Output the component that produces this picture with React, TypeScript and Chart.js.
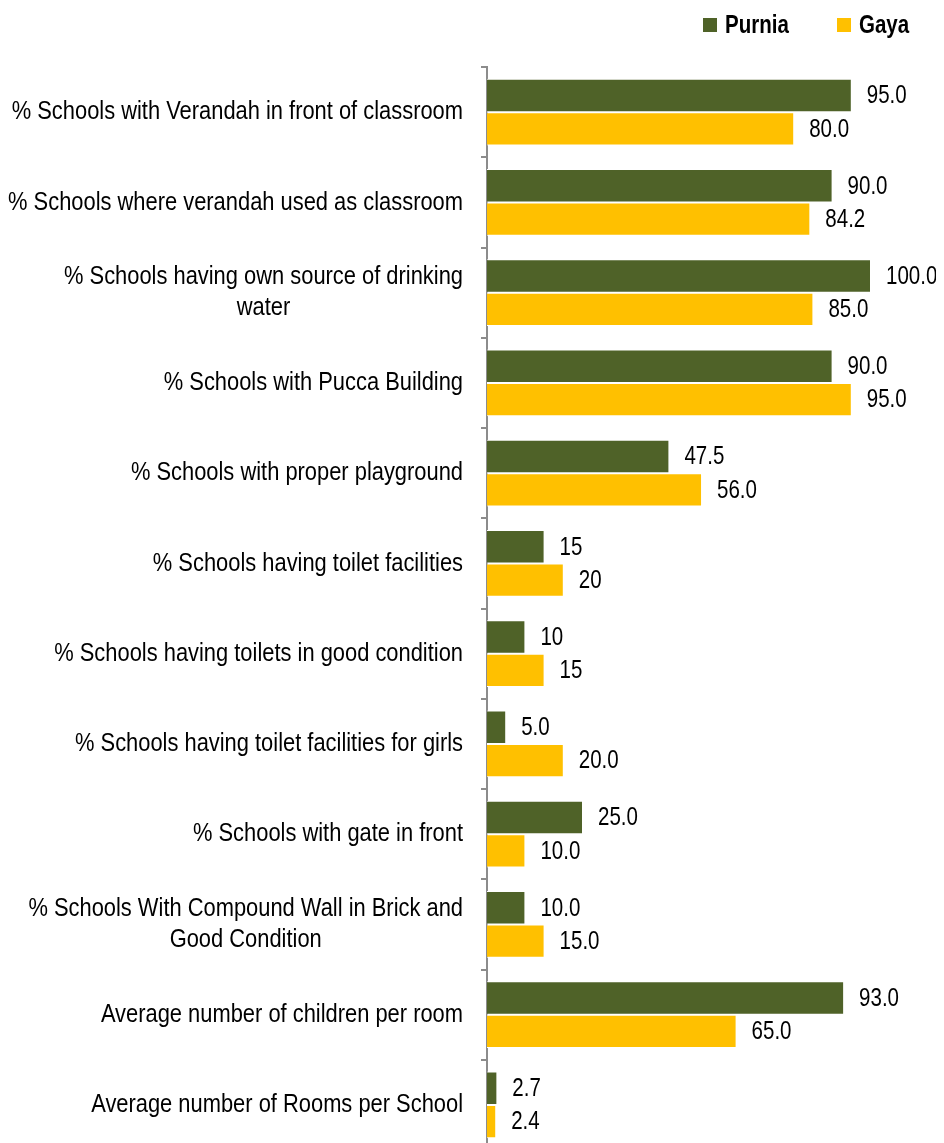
import React, { useEffect, useRef } from "react";
import { Chart, registerables } from "chart.js";

Chart.register(...registerables);

const categories: string[][] = [
  ["% Schools with Verandah in front of classroom"],
  ["% Schools where verandah used as classroom"],
  ["% Schools having own source of drinking", "water"],
  ["% Schools with Pucca Building"],
  ["% Schools with proper playground"],
  ["% Schools having toilet facilities"],
  ["% Schools having toilets in good condition"],
  ["% Schools having toilet facilities for girls"],
  ["% Schools with gate in front"],
  ["% Schools With Compound Wall in Brick and", "Good Condition"],
  ["Average number of children per room"],
  ["Average number of Rooms per School"],
];

const seriesNames = ["Purnia", "Gaya"];
const purniaValues = [95, 90, 100, 90, 47.5, 15, 10, 5, 25, 10, 93, 2.7];
const gayaValues = [80, 84.2, 85, 95, 56, 20, 15, 20, 10, 15, 65, 2.4];
const purniaLabels = ["95.0", "90.0", "100.0", "90.0", "47.5", "15", "10", "5.0", "25.0", "10.0", "93.0", "2.7"];
const gayaLabels = ["80.0", "84.2", "85.0", "95.0", "56.0", "20", "15", "20.0", "10.0", "15.0", "65.0", "2.4"];

const GREEN = "#4F6228";
const YELLOW = "#FFC000";

let narrowAvailable: boolean | null = null;
function checkNarrow(ctx: CanvasRenderingContext2D) {
  if (narrowAvailable !== null) return narrowAvailable;
  ctx.save();
  ctx.font = '26px "Liberation Sans Narrow", monospace';
  const a = ctx.measureText("Schools with Verandah").width;
  ctx.font = "26px monospace";
  const b = ctx.measureText("Schools with Verandah").width;
  ctx.restore();
  narrowAvailable = Math.abs(a - b) > 0.5;
  return narrowAvailable;
}

function setFont(ctx: CanvasRenderingContext2D, size: number, bold: boolean) {
  const w = bold ? "bold " : "";
  if (checkNarrow(ctx)) {
    ctx.font = `${w}${size}px "Liberation Sans Narrow"`;
    return 1;
  }
  ctx.font = `${w}${size}px "Liberation Sans", Arial, sans-serif`;
  return 0.82;
}

function drawText(
  ctx: CanvasRenderingContext2D,
  text: string,
  x: number,
  y: number,
  align: CanvasTextAlign,
  size: number,
  bold = false
) {
  ctx.save();
  const sx = setFont(ctx, size, bold);
  ctx.textAlign = align;
  ctx.textBaseline = "middle";
  ctx.fillStyle = "#000";
  ctx.translate(x, y);
  ctx.scale(sx, 1);
  ctx.fillText(text, 0, 0);
  ctx.restore();
}

function textWidth(ctx: CanvasRenderingContext2D, text: string, size: number, bold = false) {
  ctx.save();
  const sx = setFont(ctx, size, bold);
  const w = ctx.measureText(text).width * sx;
  ctx.restore();
  return w;
}

const CAT_FONT = 26.7;
const VALUE_FONT = 25;
const CANVAS_W = 936;
const CANVAS_H = 1142;

const categoryLabelPlugin = {
  id: "categoryLabels",
  afterDraw(chart: any) {
    const ctx = chart.ctx as CanvasRenderingContext2D;
    const yScale = chart.scales.y;
    const right = chart.chartArea.left - 24;
    const lh = 31;
    categories.forEach((lines, i) => {
      const cy = yScale.getPixelForValue(i);
      const widths = lines.map((l) => textWidth(ctx, l, CAT_FONT));
      const blockW = Math.max(...widths);
      const cx = right - blockW / 2;
      const startY = cy - ((lines.length - 1) * lh) / 2;
      lines.forEach((l, j) => {
        drawText(ctx, l, cx, startY + j * lh, "center", CAT_FONT);
      });
    });
  },
};

const valueLabelPlugin = {
  id: "valueLabels",
  afterDatasetsDraw(chart: any) {
    const ctx = chart.ctx as CanvasRenderingContext2D;
    const labelSets = [purniaLabels, gayaLabels];
    chart.data.datasets.forEach((_: any, di: number) => {
      const meta = chart.getDatasetMeta(di);
      meta.data.forEach((el: any, i: number) => {
        drawText(ctx, labelSets[di][i], el.x + 15, el.y + 1, "left", VALUE_FONT);
      });
    });
  },
};

const legendPlugin = {
  id: "customLegend",
  afterDraw(chart: any) {
    const ctx = chart.ctx as CanvasRenderingContext2D;
    const items = [
      { x: 695, text: seriesNames[0], color: GREEN },
      { x: 829, text: seriesNames[1], color: YELLOW },
    ];
    items.forEach((it) => {
      ctx.save();
      ctx.fillStyle = it.color;
      ctx.fillRect(it.x, 10, 14, 14);
      ctx.restore();
      drawText(ctx, it.text, it.x + 22, 18, "left", 25, true);
    });
  },
};

export default function App() {
  const ref = useRef<HTMLCanvasElement | null>(null);
  useEffect(() => {
    if (!ref.current) return;
    const chart = new Chart(ref.current, {
      type: "bar",
      data: {
        labels: categories.map((c) => c.join(" ")),
        datasets: [
          {
            label: seriesNames[0],
            data: purniaValues,
            backgroundColor: GREEN,
            borderColor: "#ffffff",
            borderWidth: 1,
            categoryPercentage: 0.74,
            barPercentage: 1,
          },
          {
            label: seriesNames[1],
            data: gayaValues,
            backgroundColor: YELLOW,
            borderColor: "#ffffff",
            borderWidth: 1,
            categoryPercentage: 0.74,
            barPercentage: 1,
          },
        ],
      },
      options: {
        indexAxis: "y",
        animation: false,
        responsive: false,
        devicePixelRatio: 1,
        layout: { padding: { top: 59, right: CANVAS_W - 863, bottom: 0, left: 0 } },
        plugins: {
          legend: { display: false },
          tooltip: { enabled: false },
        },
        scales: {
          x: { display: false, min: 0, max: 100 },
          y: {
            afterFit: (scale: any) => {
              scale.width = 479;
            },
            ticks: { display: false },
            grid: {
              display: true,
              drawOnChartArea: false,
              drawTicks: true,
              tickLength: 6,
              color: "#8c8c8c",
              lineWidth: 2,
              offset: true,
            },
            border: { display: true, color: "#8c8c8c", width: 2 },
          },
        },
      },
      plugins: [valueLabelPlugin, categoryLabelPlugin, legendPlugin],
    });
    return () => chart.destroy();
  }, []);
  return (
    <canvas
      ref={ref}
      width={CANVAS_W}
      height={CANVAS_H}
      style={{ display: "block", width: CANVAS_W, height: CANVAS_H }}
    />
  );
}
